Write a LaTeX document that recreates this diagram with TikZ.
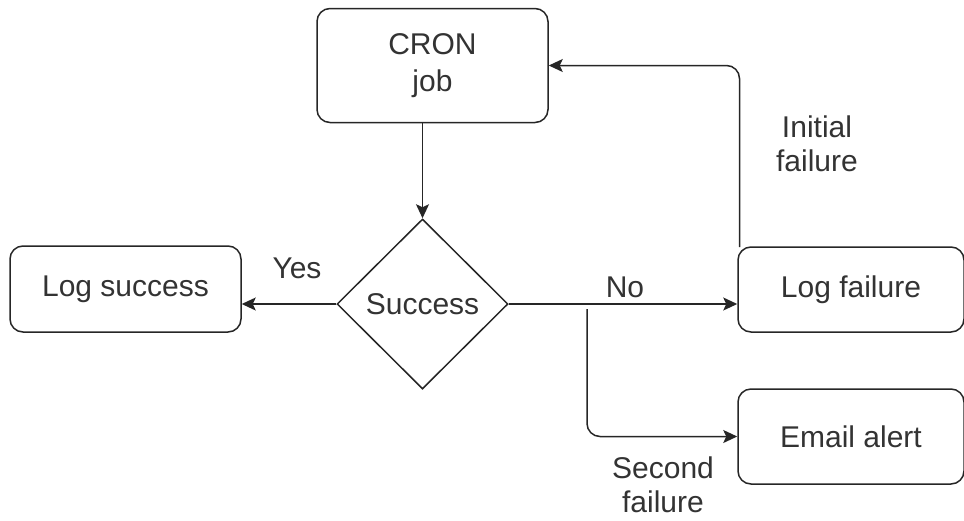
\documentclass[tikz,border=0pt]{standalone}
\usepackage{fontspec}
\setmainfont{Liberation Sans}
\usetikzlibrary{arrows.meta,shapes.geometric}
\begin{document}
\begin{tikzpicture}[x=1pt,y=-1pt,
  txt/.style={font=\fontsize{30}{36}\selectfont, text=black!80, align=center, inner sep=0pt},
  box/.style={txt, draw=black!85, line width=1.5pt, rounded corners=13pt},
  dec/.style={txt, draw=black!85, line width=1.5pt, diamond, shape aspect=1, minimum width=171pt, minimum height=170pt},
  arr/.style={draw=black!85, line width=1.5pt, -{Stealth[length=14pt,width=13pt,inset=3pt]}},
  lbl/.style={txt}]
\useasboundingbox (0,0) rectangle (964,520);
\node[box, minimum width=231pt, minimum height=114pt] (cron) at (432.5,65.5) {CRON\\[1pt]job};
\node[dec] (dia) at (422.5,304) {Success};
\node[box, minimum width=231pt, minimum height=86pt] (logs) at (125.5,289) {Log success};
\node[box, minimum width=226pt, minimum height=85pt] (logf) at (851,289.5) {Log failure};
\node[box, minimum width=226pt, minimum height=95pt] (email) at (851,436.5) {Email alert};
\coordinate (br) at (587,309);
\coordinate (lfc) at (739.5,247);
\draw[arr] (dia.north |- cron.south) -- (dia.north);
\draw[arr] (dia.west) -- (dia.west -| logs.east);
\draw[arr] (dia.east) -- (dia.east -| logf.west);
\draw[arr, rounded corners=13pt] (lfc) |- (cron.east);
\draw[arr, rounded corners=13pt] (br) |- (email.west);
\node[lbl] (yes) at (297,268) {Yes};
\node[lbl] (no) at (625,287) {No};
\node[lbl] (init) at (817,144) {Initial\\[-2pt]failure};
\node[lbl] (sec) at (663,485) {Second\\[-2pt]failure};
\end{tikzpicture}
\end{document}
